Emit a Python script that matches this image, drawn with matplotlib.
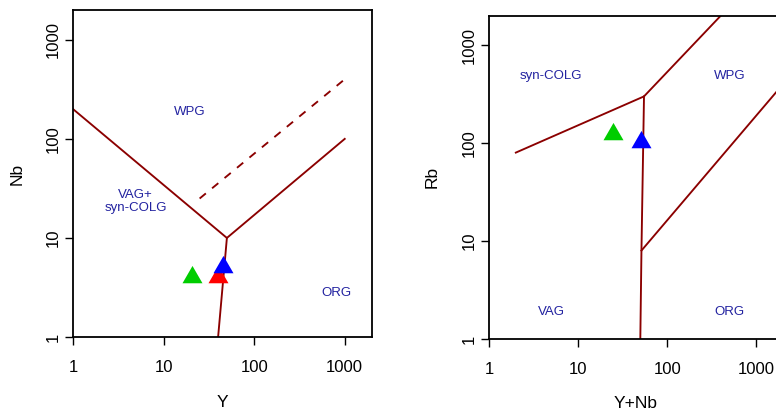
import numpy as np
import matplotlib
matplotlib.use("Agg")
import matplotlib.pyplot as plt
from matplotlib.path import Path

plt.rcParams['font.family'] = ['Liberation Sans', 'DejaVu Sans']

# ---- data ----
sample_colors = ["#00CD00", "#FF0000", "#0000FF"]
Y = [20.8, 40.2, 45.4]
Nb = [4.0, 4.0, 5.1]
Rb = [124, None, 103]

# Nb-Y boundaries
nby_main_x = [1, 50, 1000]
nby_main_y = [200, 10, 100]
nby_stem_x = [50, 40]
nby_stem_y = [10, 1]
nby_dash_x = [25, 1000]
nby_dash_y = [25, 400]
nby_labels = ["WPG", "VAG+\nsyn-COLG", "ORG"]
nby_label_x = [19.5, 4.9, 800]
nby_label_y = [188, 23.5, 2.8]

# Rb-(Y+Nb) boundaries
rb_upper_x = [2, 55, 400]
rb_upper_y = [80, 300, 2000]
rb_stem_x = [55, 51.5, 50]
rb_stem_y = [300, 8, 1]
rb_org_x = [51.5, 2000]
rb_org_y = [8, 400]
rb_labels = ["syn-COLG", "WPG", "VAG", "ORG"]
rb_label_x = [5, 500, 5, 500]
rb_label_y = [480, 480, 1.9, 1.9]

ticks = [1, 10, 100, 1000]
tick_labels = ["1", "10", "100", "1000"]

line_col = "#8B0000"
text_col = "#2222A0"
lw = 1.35

W, H = 776, 413
fig = plt.figure(figsize=(W / 100, H / 100), dpi=100)

def px_axes(l, t, r, b):
    return fig.add_axes([l / W, (H - b) / H, (r - l) / W, (b - t) / H])

ax1 = px_axes(73, 10, 372, 337)
ax2 = px_axes(489, 15.7, 783, 339)

# equilateral triangle centred on centroid (like R pch 17)
tri = Path([(0, 1.1547), (-1, -0.5774), (1, -0.5774), (0, 1.1547)],
           [Path.MOVETO, Path.LINETO, Path.LINETO, Path.CLOSEPOLY])
ms = 20 / 0.866 * 0.72

def style(ax, xlabel, ylabel, xlab_y, ylab_x):
    ax.set_xscale('log')
    ax.set_yscale('log')
    ax.set_xlim(1, 2000)
    ax.set_ylim(1, 2000)
    ax.set_xticks(ticks)
    ax.set_xticklabels(tick_labels)
    ax.set_yticks(ticks)
    ax.set_yticklabels(tick_labels, rotation=90, va='center')
    ax.minorticks_off()
    ax.tick_params(axis='x', length=5.8, width=1.0, pad=11.0, labelsize=12)
    ax.tick_params(axis='y', length=5.8, width=1.0, pad=3.0, labelsize=12)
    for s in ax.spines.values():
        s.set_linewidth(1.3)
        s.set_color('black')
    ax.set_xlabel(xlabel, fontsize=12.5)
    ax.set_ylabel(ylabel, fontsize=12.5)
    ax.xaxis.label.set_va('center')
    ax.yaxis.label.set_va('center')
    ax.xaxis.set_label_coords(0.5, xlab_y)
    ax.yaxis.set_label_coords(ylab_x, 0.5)

# ---- left panel ----
style(ax1, "Y", "Nb", -0.2, -0.187)
ax1.plot(nby_main_x, nby_main_y, color=line_col, lw=lw)
ax1.plot(nby_stem_x, nby_stem_y, color=line_col, lw=lw)
ax1.plot(nby_dash_x, nby_dash_y, color=line_col, lw=lw, dashes=(4.3, 4.3))
for lab, x, y in zip(nby_labels, nby_label_x, nby_label_y):
    ax1.text(x, y, lab, color=text_col, fontsize=9.5, ha='center', va='center',
             linespacing=1.1)
for c, x, y in zip(sample_colors, Y, Nb):
    ax1.plot([x], [y], marker=tri, ms=ms, color=c, mec='none', ls='none',
             zorder=5, clip_on=False)

# ---- right panel ----
style(ax2, "Y+Nb", "Rb", -0.201, -0.192)
ax2.plot(rb_upper_x, rb_upper_y, color=line_col, lw=lw)
ax2.plot(rb_stem_x, rb_stem_y, color=line_col, lw=lw)
ax2.plot(rb_org_x, rb_org_y, color=line_col, lw=lw)
for lab, x, y in zip(rb_labels, rb_label_x, rb_label_y):
    ax2.text(x, y, lab, color=text_col, fontsize=9.5, ha='center', va='center')
for c, y_, nb_, rb_ in zip(sample_colors, Y, Nb, Rb):
    if rb_ is None:
        continue
    ax2.plot([y_ + nb_], [rb_], marker=tri, ms=ms, color=c, mec='none',
             ls='none', zorder=5, clip_on=False)

fig.savefig("out.png", dpi=100)
